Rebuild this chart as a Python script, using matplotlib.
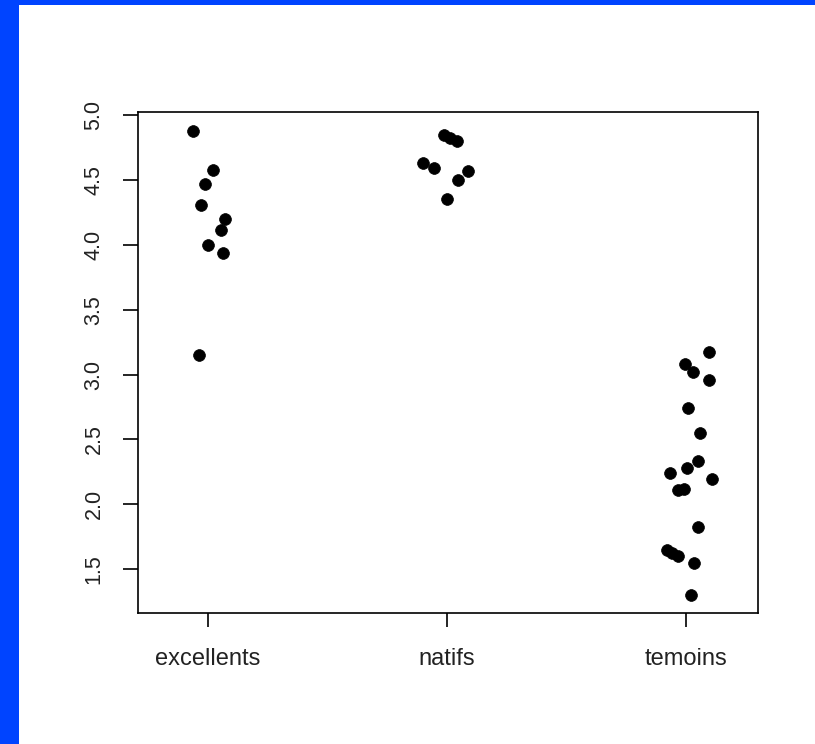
import matplotlib
matplotlib.use("Agg")
import matplotlib.pyplot as plt
from matplotlib.patches import Rectangle

# ---------------------------------------------------------------
# data (values and horizontal jitter)
# ---------------------------------------------------------------

groups = ["excellents", "natifs", "temoins"]

excellents = [4.88, 4.58, 4.47, 4.31, 4.20, 4.12, 4.00, 3.94, 3.15]
excellents_jit = [-0.064, 0.021, -0.013, -0.029, 0.071, 0.054, -0.001, 0.063, -0.036]

natifs = [4.85, 4.83, 4.80, 4.636, 4.595, 4.572, 4.50, 4.356]
natifs_jit = [-0.013, 0.013, 0.042, -0.100, -0.054, 0.089, 0.047, 0.0]

temoins = [3.173, 3.083, 3.018, 2.957, 2.741, 2.550, 2.336, 2.280, 2.241,
           2.195, 2.107, 2.118, 1.825, 1.651, 1.624, 1.601, 1.545, 1.298]
temoins_jit = [0.097, -0.007, 0.029, 0.097, 0.008, 0.056, 0.050, 0.001, -0.068,
               0.108, -0.033, -0.008, 0.049, -0.082, -0.059, -0.033, 0.033, 0.021]

yticks = [1.5, 2.0, 2.5, 3.0, 3.5, 4.0, 4.5, 5.0]

# ---------------------------------------------------------------
# plot
# ---------------------------------------------------------------

plt.rcParams["font.family"] = ["Liberation Sans", "DejaVu Sans"]

fig = plt.figure(figsize=(8.15, 7.44), dpi=100)
fig.patch.set_facecolor("white")

# blue frame on left and top edges
fig.add_artist(Rectangle((0, 0), 19 / 815, 1, transform=fig.transFigure,
                         color="#0044ff", lw=0))
fig.add_artist(Rectangle((0, 1 - 5 / 744), 1, 5 / 744, transform=fig.transFigure,
                         color="#0044ff", lw=0))

ax = fig.add_axes([138 / 815, 1 - 613 / 744, 620 / 815, 501 / 744])

for i, (vals, jit) in enumerate([(excellents, excellents_jit),
                                 (natifs, natifs_jit),
                                 (temoins, temoins_jit)]):
    xs = [i + 1 + j for j in jit]
    ax.plot(xs, vals, "o", color="black", ms=8.5, mec="black", mew=0.5)

ax.set_xlim(0.707, 3.30)
ax.set_ylim(1.161, 5.027)

ax.set_xticks([1, 2, 3])
ax.set_xticklabels(groups, fontsize=17, color="#222222")
ax.set_yticks(yticks)
ax.set_yticklabels(["%.1f" % v for v in yticks], rotation=90, va="center",
                   fontsize=15.5, color="#222222")

ax.tick_params(axis="x", length=10, width=1.2, pad=15)
ax.tick_params(axis="y", length=11, width=1.2, pad=13)
for s in ax.spines.values():
    s.set_linewidth(1.2)

plt.savefig("out.png", dpi=100, facecolor="white")
